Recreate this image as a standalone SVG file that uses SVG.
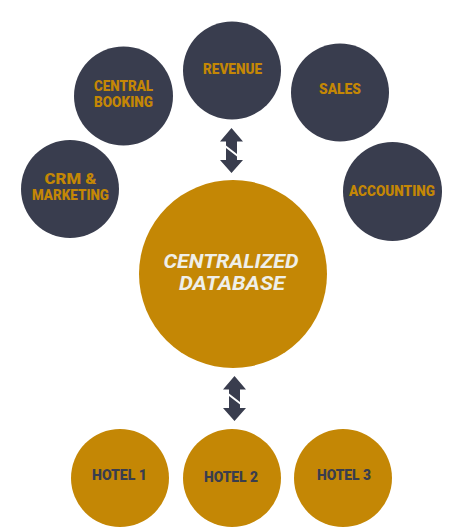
<svg xmlns="http://www.w3.org/2000/svg" width="469" height="532" viewBox="0 0 469 532">
<style>
.dark{fill:#393d4e}
.gold{fill:#c48705}
.lbl{font-family:Roboto,"Liberation Sans",sans-serif;font-weight:900;font-size:14.5px;text-anchor:middle}
.lg{fill:#c48705}
.ld{fill:#393d4e}
.title{font-family:Roboto,"Liberation Sans",sans-serif;font-weight:700;font-style:italic;font-size:20.5px;fill:#efefe9;text-anchor:middle}
</style>
<defs>
<g id="arr">
<path d="M0,0 L11.5,13.5 L5.5,13.5 L5.5,26 L-5.5,17.5 L-5.5,13.5 L-11.5,13.5 Z"/>
<path d="M-5.5,20 L5.5,28.5 L5.5,32 L11.5,32 L0,45 L-11.5,32 L-5.5,32 Z"/>
</g>
</defs>
<rect width="469" height="532" fill="#ffffff"/>
<g id="connectors" class="dark">
<use href="#arr" x="231.5" y="128"/>
<use href="#arr" x="234.5" y="376"/>
</g>
<g id="crm-marketing"><circle cx="70" cy="189" r="49" class="dark"/><text class="lbl lg" x="70.5" y="184" textLength="52" lengthAdjust="spacingAndGlyphs">CRM &amp;</text><text class="lbl lg" x="70.5" y="199.5" textLength="77" lengthAdjust="spacingAndGlyphs">MARKETING</text></g>
<g id="central-booking"><circle cx="123.5" cy="96" r="49.5" class="dark"/><text class="lbl lg" x="123.5" y="91" textLength="59" lengthAdjust="spacingAndGlyphs">CENTRAL</text><text class="lbl lg" x="123.5" y="106.5" textLength="59" lengthAdjust="spacingAndGlyphs">BOOKING</text></g>
<g id="revenue"><circle cx="232" cy="70.5" r="49" class="dark"/><text class="lbl lg" x="232.5" y="74" textLength="59" lengthAdjust="spacingAndGlyphs">REVENUE</text></g>
<g id="sales"><circle cx="340" cy="92.5" r="49" class="dark"/><text class="lbl lg" x="340" y="93.5" textLength="42" lengthAdjust="spacingAndGlyphs">SALES</text></g>
<g id="accounting"><circle cx="392.5" cy="191.5" r="49.5" class="dark"/><text class="lbl lg" x="392" y="195.5" textLength="86" lengthAdjust="spacingAndGlyphs">ACCOUNTING</text></g>
<g id="centralized-database"><circle cx="233" cy="274" r="94" class="gold"/><text class="title" x="231" y="267.5" textLength="135" lengthAdjust="spacingAndGlyphs">CENTRALIZED</text><text class="title" x="232" y="290" textLength="106" lengthAdjust="spacingAndGlyphs">DATABASE</text></g>
<g id="hotel-1"><circle cx="120" cy="478" r="49" class="gold"/><text class="lbl ld" x="119.5" y="480" textLength="55" lengthAdjust="spacingAndGlyphs">HOTEL 1</text></g>
<g id="hotel-2"><circle cx="232" cy="478" r="49" class="gold"/><text class="lbl ld" x="231" y="481.5" textLength="54" lengthAdjust="spacingAndGlyphs">HOTEL 2</text></g>
<g id="hotel-3"><circle cx="343" cy="478" r="49" class="gold"/><text class="lbl ld" x="344" y="479.5" textLength="54" lengthAdjust="spacingAndGlyphs">HOTEL 3</text></g>
</svg>
